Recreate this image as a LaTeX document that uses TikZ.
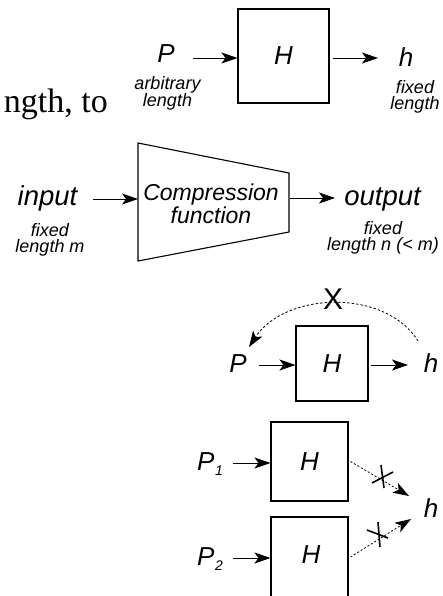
\documentclass[tikz,border=0pt]{standalone}
\usepackage{fontspec}
\setmainfont{Liberation Sans}
\newfontfamily\bodyserif{Liberation Serif}
\usetikzlibrary{arrows.meta}
\begin{document}
\begin{tikzpicture}[x=1pt,y=-1pt,
  lbl/.style={font=\itshape\fontsize{26}{26}\selectfont, inner sep=0pt},
  big/.style={font=\itshape\fontsize{27.5}{27.5}\selectfont, inner sep=0pt},
  note/.style={font=\itshape\fontsize{18}{16}\selectfont, align=center, inner sep=0pt},
  hbox/.style={draw, line width=1.1pt, inner sep=0pt, font=\itshape\fontsize{26}{26}\selectfont},
  tip/.style={-{Stealth[length=16pt,width=11pt,inset=4pt]}},
  arr/.style={line width=0.9pt, tip},
  dotarr/.style={line width=0.8pt, dash pattern=on 2pt off 2pt, tip},
  arcline/.style={line width=0.8pt, dash pattern=on 2.5pt off 2pt, tip},
  cross/.style={line width=1.6pt},
]
\useasboundingbox (0,0) rectangle (443,596);
\clip (0,0) rectangle (443,596);

% running text fragment on the left
\node[font=\bodyserif\fontsize{34}{34}\selectfont, anchor=base east, inner sep=0pt] (frag) at (108,113) {ngth, to};

% --- hash function H: arbitrary length in, fixed length out
% (base anchor of a two-line note = baseline of its last line)
\node[hbox, minimum width=91pt, minimum height=94pt] (B1) at (283.5,56) {H};
\node[lbl, anchor=base] (P1) at (166,63) {P};
\node[lbl, anchor=base] (h1) at (406,67) {h};
\node[note, anchor=base] (n1) at (167.5,107) {arbitrary\\length};
\node[note, anchor=base] (n2) at (415,110) {fixed\\length};
\coordinate (a1) at (193,58);
\coordinate (a2) at (333,58);
\coordinate (a2e) at (378,58);
\draw[arr] (a1) -- (a1 -| B1.west);
\draw[arr] (a2) -- (a2e);

% --- compression function
\coordinate (t1) at (138,143);
\coordinate (t2) at (289,173);
\coordinate (t3) at (289,232);
\coordinate (t4) at (138,261);
\draw[line width=1.1pt, line join=miter] (t1) -- (t2) -- (t3) -- (t4) -- cycle;
\node[font=\itshape\fontsize{23}{23}\selectfont, align=center, inner sep=0pt, anchor=base] (cf) at (211,223) {Compression\\function};
\node[big, anchor=base] (in) at (47.5,205) {input};
\node[big, anchor=base] (out) at (382.5,205) {output};
\node[note, anchor=base] (n3) at (50,252) {fixed\\length m};
\node[note, anchor=base] (n4) at (383,250) {fixed\\length n (< m)};
\coordinate (c1) at (93,199);
\coordinate (c2) at (290,198);
\coordinate (c2e) at (335,198);
\draw[arr] (c1) -- (c1 -| t1);
\draw[arr] (c2) -- (c2e);

% --- one-way: h cannot be turned back into P
\node[hbox, minimum width=72pt, minimum height=75pt] (B3) at (332,363.5) {H};
\node[lbl, anchor=base] (P3) at (238,372) {P};
\node[lbl, anchor=base] (h3) at (431,372) {h};
\coordinate (d1) at (259,365);
\coordinate (d2) at (371,365);
\coordinate (d2e) at (408,365);
\draw[arr] (d1) -- (d1 -| B3.west);
\draw[arr] (d2) -- (d2e);
\coordinate (arcS) at (418,341);
\coordinate (arcE) at (249,347);
\draw[arcline] (arcS) .. controls (385,288) and (285,292) .. (arcE);
\node[font=\fontsize{30}{30}\selectfont, inner sep=0pt] (X) at (333,299) {X};

% --- collision resistance: two inputs, one digest
\node[hbox, minimum width=77pt, minimum height=79pt] (B4a) at (309.5,461.5) {H};
\node[hbox, minimum width=77pt, minimum height=84pt] (B4b) at (309.5,559) {};
\node[lbl] (H4b) at (311,555) {H};
\node[lbl, anchor=base west] (P4a) at (197,470) {P\kern0.5pt\raisebox{-5pt}{\fontsize{14}{14}\selectfont 1}};
\node[lbl, anchor=base west] (P4b) at (197,565) {P\kern0.5pt\raisebox{-5pt}{\fontsize{14}{14}\selectfont 2}};
\node[lbl, anchor=base] (h4) at (431,517) {h};
\coordinate (e1) at (233,463);
\coordinate (e2) at (233,558);
\draw[arr] (e1) -- (e1 -| B4a.west);
\draw[arr] (e2) -- (e2 -| B4b.west);
\coordinate (f1) at (409,496);
\coordinate (f2) at (411,519);
\draw[dotarr] ([xshift=2pt]B4a.east) -- (f1);
\draw[dotarr] ([xshift=2pt,yshift=2pt]B4b.east) -- (f2);
% crossed-out marks on the two dotted arrows
\draw[cross] (372,483) -- (393,472);
\draw[cross] (381,465) -- (384,488);
\draw[cross] (367,530) -- (388,538);
\draw[cross] (378,522) -- (380,547);
\end{tikzpicture}
\end{document}
